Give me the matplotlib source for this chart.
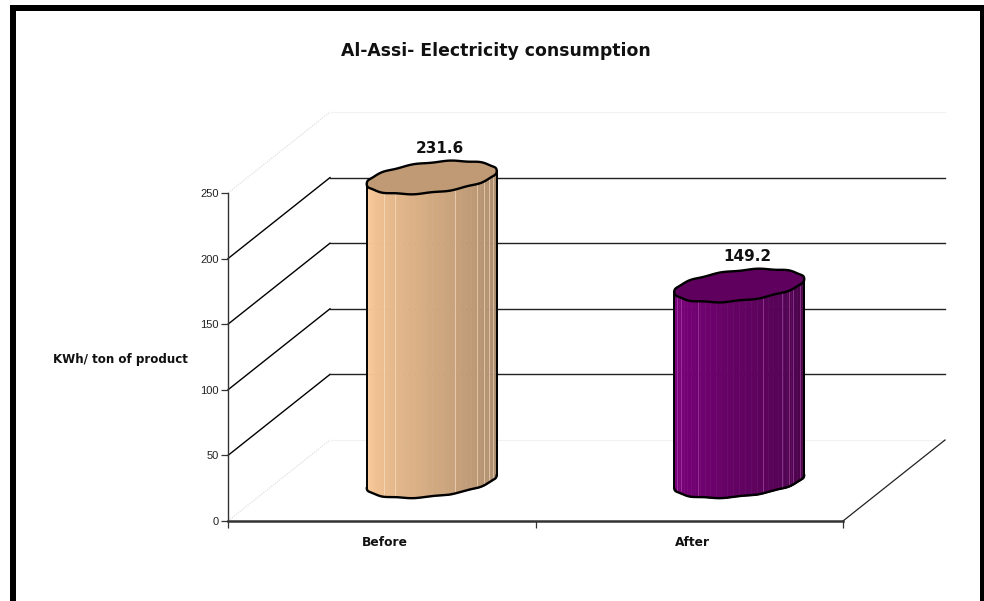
import numpy as np
import matplotlib
matplotlib.use("Agg")
import matplotlib.pyplot as plt
from matplotlib.patches import Rectangle

plt.rcParams['font.family'] = ['Liberation Sans', 'DejaVu Sans']

# values
categories = ['Before', 'After']
values = [231.6, 149.2]
value_labels = ['231.6', '149.2']
y_ticks = [0, 50, 100, 150, 200, 250]
title = 'Al-Assi- Electricity consumption'
y_label = 'KWh/ ton of product'

W, H = 984, 601
fig = plt.figure(figsize=(W / 100, H / 100), dpi=100, facecolor='white')

# front plane of the fake 3D box, in pixels
left, right, bottom, top = 228, 843, 521, 193
ax = fig.add_axes([left / W, 1 - bottom / H, (right - left) / W, (bottom - top) / H])
ax.set_xlim(-0.5, 1.5)
ax.set_ylim(0, 250)
ax.patch.set_visible(False)

px_x = 2 / (right - left)   # data units per pixel
px_y = 250 / (bottom - top)
depth_x = 102 * px_x
depth_y = 81 * px_y

# floor, back wall and side lines
for v in y_ticks:
    faint = v in (0, 250)
    col = '#e0e0e0' if faint else 'black'
    ls = (0, (1, 1)) if faint else '-'
    lw = 0.9 if faint else 1.0
    ax.plot([-0.5, -0.5 + depth_x], [v, v + depth_y], color=col, lw=lw, ls=ls,
            clip_on=False, zorder=1)
    ax.plot([-0.5 + depth_x, 1.5 + depth_x], [v + depth_y, v + depth_y],
            color='#f2f2f2' if faint else '#222222', lw=0.8 if faint else 1.0,
            clip_on=False, zorder=1)
ax.plot([1.5, 1.5 + depth_x], [0, depth_y], color='#222222', lw=0.9, clip_on=False, zorder=1)

# cylinder look
half_w = 65 * px_x
half_h = 15.2 * px_y
tilt = 6.5 * px_y
base = 0.49 * depth_y
shift = 0.49 * depth_x

side_light = [(255/255, 205/255, 155/255), (128/255, 0, 128/255)]
side_dark = [(165/255, 135/255, 105/255), (70/255, 5/255, 70/255)]
top_cols = ['#bf9a74', '#5f005f']
# where the pale seams sit across the width (fraction of the cylinder)
seams = [[0.13, 0.22, 0.68, 0.85, 0.90, 0.94, 0.97],
         [0.02, 0.05, 0.18, 0.68, 0.83, 0.885, 0.915, 0.97]]


def rim(cx, cy, t):
    wob = np.sin(11 * t) * 0.45 * px_y
    return cx + half_w * np.cos(t), cy + half_h * np.sin(t) + tilt * np.cos(t) + wob


for i, (name, v) in enumerate(zip(categories, values)):
    cx = i + shift
    y0 = base
    y1 = v + base

    # side, a stack of narrow strips going darker to the right
    n_strips = 34
    edges = np.linspace(np.pi, 2 * np.pi, n_strips + 1)
    for k in range(n_strips):
        ts = np.linspace(edges[k], edges[k + 1], 4)
        xb, yb = rim(cx, y0, ts)
        xt, yt = rim(cx, y1, ts)
        f = k / (n_strips - 1)
        col = [(1 - f) * a + f * b for a, b in zip(side_light[i], side_dark[i])]
        ax.fill_between(xb, yb, np.interp(xb, xt, yt), color=col, lw=0.4, zorder=2,
                        clip_on=False)

    # pale seams
    seam_col = '#ffe6cc' if i == 0 else '#b050b0'
    for s in seams[i]:
        xs = cx - half_w + 2 * half_w * s
        ts = np.linspace(np.pi, 2 * np.pi, 200)
        xb, yb = rim(cx, y0, ts)
        ax.plot([xs, xs], [np.interp(xs, xb, yb), y1], color=seam_col, lw=0.5, alpha=0.8,
                zorder=3, clip_on=False)

    # outline and top
    t = np.linspace(np.pi, 2 * np.pi, 200)
    xb, yb = rim(cx, y0, t)
    ax.plot(xb, yb, color='black', lw=1.7, zorder=4, solid_capstyle='round', clip_on=False)
    ax.plot([xb[0], xb[0]], [yb[0], y1 - tilt], color='black', lw=1.4, zorder=4, clip_on=False)
    ax.plot([xb[-1], xb[-1]], [yb[-1], y1 + tilt], color='black', lw=1.4, zorder=4, clip_on=False)
    t = np.linspace(0, 2 * np.pi, 300)
    xt, yt = rim(cx, y1, t)
    ax.fill(xt, yt, facecolor=top_cols[i], edgecolor='black', lw=1.7, zorder=5, clip_on=False)

    ax.text(cx + 8 * px_x, y1 + 29 * px_y, value_labels[i], ha='center', va='center',
            fontsize=11, fontweight='bold', family=['DejaVu Sans'], color='#111111',
            clip_on=False)

# axes
for s in ('top', 'right'):
    ax.spines[s].set_visible(False)
ax.spines['left'].set_color('#333333')
ax.spines['left'].set_linewidth(1.0)
ax.spines['bottom'].set_color('#333333')
ax.spines['bottom'].set_linewidth(1.8)
ax.set_yticks(y_ticks)
ax.tick_params(axis='y', length=5, width=0.9, color='#333333', labelsize=8,
               labelcolor='#222222', pad=1.5)
ax.set_xticks([-0.5, 0.5, 1.5])
ax.set_xticklabels([])
ax.tick_params(axis='x', length=5, width=0.9, color='#333333')
for i, name in enumerate(categories):
    ax.text(i + 3 * px_x, -22 * px_y, name, ha='center', va='center', fontsize=8.8,
            fontweight='bold', family=['DejaVu Sans'], color='#111111')

fig.text(120 / W, 1 - 359 / H, y_label, ha='center', va='center', fontsize=8.6,
         fontweight='bold', family=['DejaVu Sans'], color='#111111')
fig.text(496 / W, 1 - 51 / H, title, ha='center', va='center', fontsize=12.4,
         fontweight='bold', family=['DejaVu Sans'], color='#111111')

# black frame, open at the bottom
for x0, y0, x1, y1 in [(10, 5, 16, 601), (10, 5, 984, 11), (980, 5, 984, 601)]:
    fig.add_artist(Rectangle((x0 / W, 1 - y1 / H), (x1 - x0) / W, (y1 - y0) / H,
                             transform=fig.transFigure, facecolor='black', edgecolor='none'))

fig.savefig('out.png', dpi=100, facecolor='white')
